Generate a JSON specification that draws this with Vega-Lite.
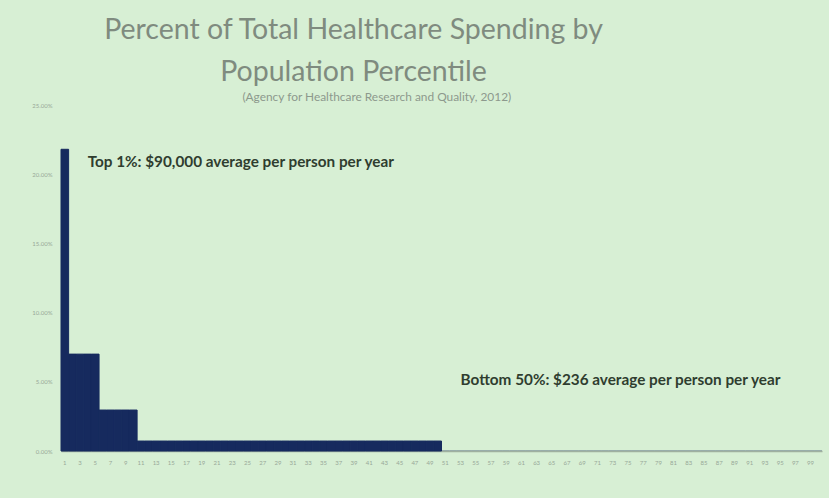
{
  "$schema": "https://vega.github.io/schema/vega-lite/v6.json",
  "width": 761,
  "height": 346,
  "autosize": {"type": "none"},
  "padding": {"left": 61, "top": 105, "right": 7, "bottom": 47},
  "background": "#d7efd4",
  "config": {"view": {"stroke": null}, "font": "Lato"},
  "title": {
    "text": ["Percent of Total Healthcare Spending by", "Population Percentile"],
    "anchor": "middle",
    "dx": -88,
    "fontSize": 28.5,
    "font": "Lato",
    "fontWeight": "normal",
    "color": "#7f8b7f",
    "lineHeight": 42,
    "offset": 4
  },
  "layer": [
    {
      "data": {"values": [
        {"p": 1, "v": 0.218},
        {"p": 2, "v": 0.070}, {"p": 3, "v": 0.070}, {"p": 4, "v": 0.070}, {"p": 5, "v": 0.070},
        {"p": 6, "v": 0.0296}, {"p": 7, "v": 0.0296}, {"p": 8, "v": 0.0296}, {"p": 9, "v": 0.0296}, {"p": 10, "v": 0.0296},
        {"p": 11, "v": 0.0072}, {"p": 12, "v": 0.0072}, {"p": 13, "v": 0.0072}, {"p": 14, "v": 0.0072}, {"p": 15, "v": 0.0072},
        {"p": 16, "v": 0.0072}, {"p": 17, "v": 0.0072}, {"p": 18, "v": 0.0072}, {"p": 19, "v": 0.0072}, {"p": 20, "v": 0.0072},
        {"p": 21, "v": 0.0072}, {"p": 22, "v": 0.0072}, {"p": 23, "v": 0.0072}, {"p": 24, "v": 0.0072}, {"p": 25, "v": 0.0072},
        {"p": 26, "v": 0.0072}, {"p": 27, "v": 0.0072}, {"p": 28, "v": 0.0072}, {"p": 29, "v": 0.0072}, {"p": 30, "v": 0.0072},
        {"p": 31, "v": 0.0072}, {"p": 32, "v": 0.0072}, {"p": 33, "v": 0.0072}, {"p": 34, "v": 0.0072}, {"p": 35, "v": 0.0072},
        {"p": 36, "v": 0.0072}, {"p": 37, "v": 0.0072}, {"p": 38, "v": 0.0072}, {"p": 39, "v": 0.0072}, {"p": 40, "v": 0.0072},
        {"p": 41, "v": 0.0072}, {"p": 42, "v": 0.0072}, {"p": 43, "v": 0.0072}, {"p": 44, "v": 0.0072}, {"p": 45, "v": 0.0072},
        {"p": 46, "v": 0.0072}, {"p": 47, "v": 0.0072}, {"p": 48, "v": 0.0072}, {"p": 49, "v": 0.0072}, {"p": 50, "v": 0.0072},
        {"p": 51, "v": 0.0002}, {"p": 52, "v": 0.0002}, {"p": 53, "v": 0.0002}, {"p": 54, "v": 0.0002}, {"p": 55, "v": 0.0002},
        {"p": 56, "v": 0.0002}, {"p": 57, "v": 0.0002}, {"p": 58, "v": 0.0002}, {"p": 59, "v": 0.0002}, {"p": 60, "v": 0.0002},
        {"p": 61, "v": 0.0002}, {"p": 62, "v": 0.0002}, {"p": 63, "v": 0.0002}, {"p": 64, "v": 0.0002}, {"p": 65, "v": 0.0002},
        {"p": 66, "v": 0.0002}, {"p": 67, "v": 0.0002}, {"p": 68, "v": 0.0002}, {"p": 69, "v": 0.0002}, {"p": 70, "v": 0.0002},
        {"p": 71, "v": 0.0002}, {"p": 72, "v": 0.0002}, {"p": 73, "v": 0.0002}, {"p": 74, "v": 0.0002}, {"p": 75, "v": 0.0002},
        {"p": 76, "v": 0.0002}, {"p": 77, "v": 0.0002}, {"p": 78, "v": 0.0002}, {"p": 79, "v": 0.0002}, {"p": 80, "v": 0.0002},
        {"p": 81, "v": 0.0002}, {"p": 82, "v": 0.0002}, {"p": 83, "v": 0.0002}, {"p": 84, "v": 0.0002}, {"p": 85, "v": 0.0002},
        {"p": 86, "v": 0.0002}, {"p": 87, "v": 0.0002}, {"p": 88, "v": 0.0002}, {"p": 89, "v": 0.0002}, {"p": 90, "v": 0.0002},
        {"p": 91, "v": 0.0002}, {"p": 92, "v": 0.0002}, {"p": 93, "v": 0.0002}, {"p": 94, "v": 0.0002}, {"p": 95, "v": 0.0002},
        {"p": 96, "v": 0.0002}, {"p": 97, "v": 0.0002}, {"p": 98, "v": 0.0002}, {"p": 99, "v": 0.0002}, {"p": 100, "v": 0.0002}
      ]},
      "mark": {"type": "bar", "color": "#162a5e", "stroke": "#162a5e"},
      "encoding": {
        "x": {
          "field": "p", "type": "ordinal",
          "scale": {"paddingInner": 0, "paddingOuter": 0},
          "axis": {
            "title": null, "labelAngle": 0, "ticks": false,
            "labelExpr": "datum.value % 2 == 1 ? datum.label : ''",
            "labelOverlap": false, "labelFontSize": 6, "labelColor": "#98a898",
            "labelPadding": 8, "domainColor": "#9fb09f", "domainWidth": 1.5
          }
        },
        "y": {
          "field": "v", "type": "quantitative",
          "scale": {"domain": [0, 0.25], "nice": false},
          "axis": {
            "title": null, "format": ".2%", "values": [0, 0.05, 0.1, 0.15, 0.2, 0.25],
            "grid": false, "domain": false, "ticks": false,
            "labelFontSize": 6, "labelColor": "#98a898", "labelPadding": 9
          }
        },
        "strokeWidth": {"condition": {"test": "datum.v > 0.001", "value": 1}, "value": 0}
      }
    },
    {
      "data": {"values": [
        {"p": 4, "v": 0.209, "t": "Top 1%: $90,000 average per person per year"},
        {"p": 53, "v": 0.0513, "t": "Bottom 50%: $236 average per person per year"}
      ]},
      "mark": {"type": "text", "align": "left", "baseline": "middle", "fontSize": 15.3, "fontWeight": "bold", "color": "#2f3d2f", "font": "Lato"},
      "encoding": {
        "x": {"field": "p", "type": "ordinal"},
        "y": {"field": "v", "type": "quantitative"},
        "text": {"field": "t"}
      }
    },
    {
      "data": {"values": [
        {"p": 42, "v": 0.2558, "t": "(Agency for Healthcare Research and Quality, 2012)"}
      ]},
      "mark": {"type": "text", "align": "center", "baseline": "middle", "fontSize": 11.9, "color": "#8d998d", "font": "Lato"},
      "encoding": {
        "x": {"field": "p", "type": "ordinal"},
        "y": {"field": "v", "type": "quantitative"},
        "text": {"field": "t"}
      }
    }
  ]
}
